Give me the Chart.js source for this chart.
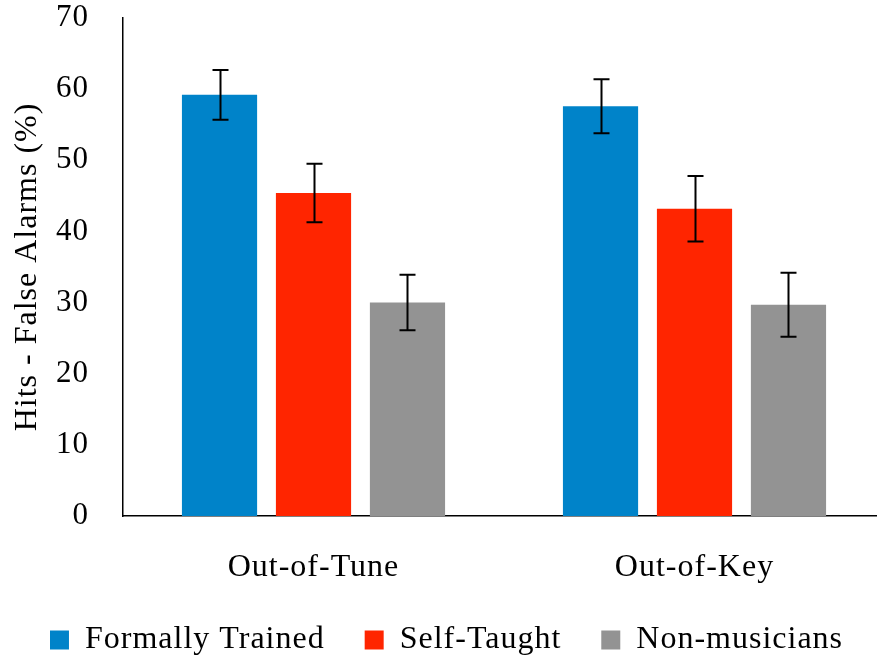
<!DOCTYPE html>
<html>
<head>
<meta charset="utf-8">
<script src="https://cdn.jsdelivr.net/npm/chart.js@4.4.1/dist/chart.umd.min.js"></script>
<style>
  html, body { margin: 0; padding: 0; background: #fff; overflow: hidden; }
  #wrap { width: 890px; height: 657px; }
</style>
</head>
<body>
<div id="wrap"><canvas id="chart" width="890" height="657"></canvas></div>
<script>
// ── Data ────────────────────────────────────────────────────────────────
var categories = ['Out-of-Tune', 'Out-of-Key'];
var seriesNames = ['Formally Trained', 'Self-Taught', 'Non-musicians'];

var formallyTrained = [59.2, 57.6];
var selfTaught      = [45.4, 43.2];
var nonMusicians    = [30.0, 29.7];

// symmetric error (± value)
var formallyTrainedErr = [3.5, 3.8];
var selfTaughtErr      = [4.1, 4.6];
var nonMusiciansErr    = [3.9, 4.5];

var yTicks = [0, 10, 20, 30, 40, 50, 60, 70];

var COLOURS = ['#0083C9', '#FF2500', '#939393'];
var FONT = '"Liberation Serif", "Times New Roman", serif';

// ── Plugins ─────────────────────────────────────────────────────────────
var errorBars = {
    id: 'errorBars',
    afterDatasetsDraw: function (chart) {
        var ctx = chart.ctx;
        var yScale = chart.scales.y;
        ctx.save();
        ctx.strokeStyle = '#000';
        ctx.lineWidth = 2;
        chart.data.datasets.forEach(function (ds, i) {
            var meta = chart.getDatasetMeta(i);
            meta.data.forEach(function (bar, j) {
                var v = ds.data[j], e = ds.errors[j];
                var yTop = yScale.getPixelForValue(v + e);
                var yBot = yScale.getPixelForValue(v - e);
                var x = Math.round(bar.x) + 0.5;
                ctx.beginPath();
                ctx.moveTo(x, yTop); ctx.lineTo(x, yBot);
                ctx.moveTo(x - 8, yTop); ctx.lineTo(x + 8, yTop);
                ctx.moveTo(x - 8, yBot); ctx.lineTo(x + 8, yBot);
                ctx.stroke();
            });
        });
        ctx.restore();
    }
};

// wider glyph spacing (the original uses a Garamond-like face) and a fixed legend height
var textTweaks = {
    id: 'textTweaks',
    beforeInit: function (chart) {
        var legend = chart.legend;
        if (legend) {
            var fit = legend.fit;
            legend.fit = function () {
                fit.call(this);
                this.height = 73;
            };
        }
    },
    beforeLayout: function (chart) { chart.ctx.letterSpacing = '1px'; },
    beforeDraw: function (chart) { chart.ctx.letterSpacing = '1px'; }
};

function makeDataset(i, data, errs) {
    return {
        label: seriesNames[i],
        data: data,
        errors: errs,
        backgroundColor: COLOURS[i],
        borderWidth: 0,
        categoryPercentage: 0.74,
        barPercentage: 0.8
    };
}

new Chart(document.getElementById('chart').getContext('2d'), {
    type: 'bar',
    data: {
        labels: categories,
        datasets: [
            makeDataset(0, formallyTrained, formallyTrainedErr),
            makeDataset(1, selfTaught, selfTaughtErr),
            makeDataset(2, nonMusicians, nonMusiciansErr)
        ]
    },
    options: {
        responsive: false,
        animation: false,
        layout: { padding: { left: 8, right: 5, top: 0, bottom: 0 } },
        plugins: {
            legend: {
                position: 'bottom',
                padding: { top: 15, bottom: 0, left: 0, right: 0 },
                labels: {
                    boxWidth: 19,
                    boxHeight: 19,
                    padding: 40,
                    color: '#000',
                    font: { family: FONT, size: 32 }
                }
            },
            tooltip: { enabled: false }
        },
        scales: {
            x: {
                grid: { display: false, drawTicks: false },
                border: { display: true, color: '#000', width: 1.5 },
                ticks: { color: '#000', padding: 32, font: { family: FONT, size: 32 } },
                afterFit: function (s) { s.height = 68; }
            },
            y: {
                min: 0,
                max: 70,
                afterBuildTicks: function (s) {
                    s.ticks = yTicks.map(function (v) { return { value: v }; });
                },
                grid: { display: false, drawTicks: false },
                border: { display: true, color: '#000', width: 1.5 },
                ticks: { color: '#000', padding: 34, font: { family: FONT, size: 31 } },
                title: {
                    display: true,
                    text: 'Hits - False Alarms (%)',
                    color: '#000',
                    padding: { top: 0, bottom: 0 },
                    font: { family: FONT, size: 32 }
                },
                afterFit: function (s) {
                    s.width = 115;
                    s.paddingTop = 18;
                }
            }
        }
    },
    plugins: [errorBars, textTweaks]
});
</script>
</body>
</html>
